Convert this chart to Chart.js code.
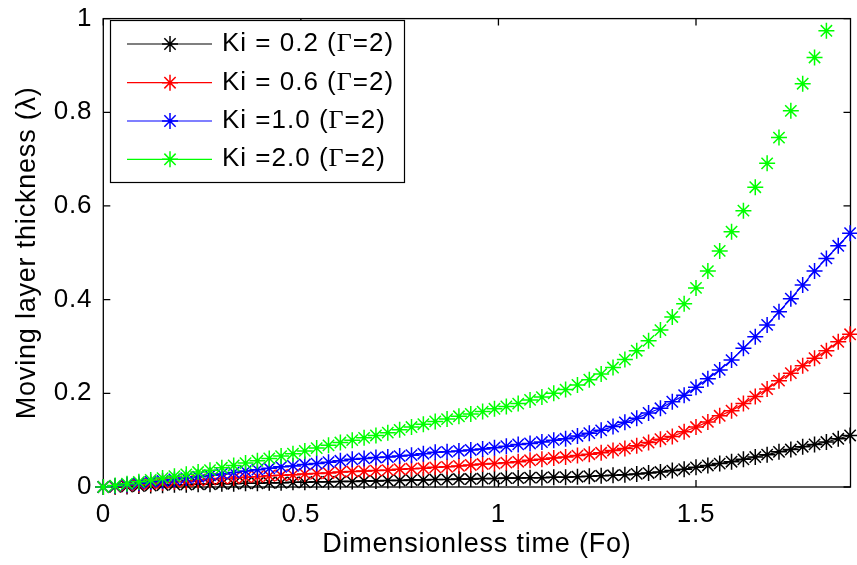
<!DOCTYPE html>
<html>
<head>
<meta charset="utf-8">
<script src="https://cdn.jsdelivr.net/npm/chart.js@4.4.0/dist/chart.umd.min.js"></script>
<style>
  html, body { margin: 0; padding: 0; background: #fff; overflow: hidden; }
  canvas { display: block; }
</style>
</head>
<body>
<canvas id="chart" width="860" height="565"></canvas>
<script>
// Dimensionless time (Fo)
const fo = [0, 0.03, 0.06, 0.09, 0.12, 0.15, 0.18, 0.21, 0.24, 0.27,
  0.30, 0.33, 0.36, 0.39, 0.42, 0.45, 0.48, 0.51, 0.54, 0.57,
  0.60, 0.63, 0.66, 0.69, 0.72, 0.75, 0.78, 0.81, 0.84, 0.87,
  0.90, 0.93, 0.96, 0.99, 1.02, 1.05, 1.08, 1.11, 1.14, 1.17,
  1.20, 1.23, 1.26, 1.29, 1.32, 1.35, 1.38, 1.41, 1.44, 1.47,
  1.50, 1.53, 1.56, 1.59, 1.62, 1.65, 1.68, 1.71, 1.74, 1.77,
  1.80, 1.83, 1.86, 1.89];

// Moving layer thickness for each Ki
const ki02 = [0, 0.0005, 0.001, 0.002, 0.003, 0.004, 0.005, 0.005, 0.006, 0.006,
  0.007, 0.007, 0.008, 0.008, 0.009, 0.009, 0.010, 0.010, 0.011, 0.011,
  0.012, 0.012, 0.013, 0.013, 0.014, 0.014, 0.015, 0.015, 0.016, 0.016,
  0.017, 0.017, 0.018, 0.018, 0.019, 0.019, 0.020, 0.020, 0.021, 0.021,
  0.022, 0.023, 0.024, 0.025, 0.026, 0.028, 0.030, 0.032, 0.035, 0.038,
  0.042, 0.046, 0.050, 0.054, 0.059, 0.064, 0.069, 0.075, 0.080, 0.086,
  0.091, 0.096, 0.103, 0.110];
const ki06 = [0, 0.001, 0.003, 0.005, 0.007, 0.009, 0.011, 0.012, 0.014, 0.016,
  0.018, 0.019, 0.021, 0.022, 0.024, 0.025, 0.026, 0.028, 0.029, 0.030,
  0.032, 0.033, 0.034, 0.035, 0.036, 0.038, 0.039, 0.040, 0.042, 0.043,
  0.045, 0.047, 0.049, 0.050, 0.052, 0.054, 0.057, 0.059, 0.062, 0.064,
  0.067, 0.070, 0.073, 0.078, 0.082, 0.088, 0.095, 0.102, 0.108, 0.118,
  0.128, 0.139, 0.152, 0.163, 0.178, 0.193, 0.209, 0.227, 0.243, 0.259,
  0.275, 0.291, 0.310, 0.326];
const ki10 = [0, 0.002, 0.005, 0.008, 0.011, 0.013, 0.016, 0.019, 0.022, 0.025,
  0.028, 0.031, 0.034, 0.037, 0.040, 0.043, 0.045, 0.048, 0.050, 0.053,
  0.056, 0.059, 0.061, 0.063, 0.064, 0.066, 0.068, 0.071, 0.074, 0.075,
  0.077, 0.079, 0.081, 0.084, 0.087, 0.091, 0.093, 0.096, 0.100, 0.103,
  0.109, 0.115, 0.121, 0.129, 0.138, 0.147, 0.158, 0.168, 0.182, 0.196,
  0.213, 0.231, 0.250, 0.271, 0.296, 0.321, 0.346, 0.374, 0.402, 0.431,
  0.461, 0.488, 0.515, 0.542];
const ki20 = [0, 0.003, 0.007, 0.011, 0.015, 0.019, 0.023, 0.027, 0.032, 0.036,
  0.041, 0.046, 0.051, 0.056, 0.061, 0.066, 0.071, 0.077, 0.083, 0.089,
  0.095, 0.100, 0.105, 0.110, 0.116, 0.122, 0.128, 0.134, 0.140, 0.145,
  0.151, 0.156, 0.161, 0.167, 0.172, 0.178, 0.186, 0.192, 0.200, 0.208,
  0.218, 0.229, 0.241, 0.255, 0.272, 0.291, 0.312, 0.335, 0.363, 0.391,
  0.425, 0.461, 0.504, 0.545, 0.590, 0.640, 0.691, 0.746, 0.803, 0.861,
  0.917, 0.974];

const seriesNames = ['Ki = 0.2 (Γ=2)', 'Ki = 0.6 (Γ=2)', 'Ki =1.0 (Γ=2)', 'Ki =2.0 (Γ=2)'];
const seriesColors = ['#000000', '#ff0000', '#0000ff', '#00ff00'];
const xTicks = [0, 0.5, 1, 1.5];
const yTicks = [0, 0.2, 0.4, 0.6, 0.8, 1];

const FONT = "'Liberation Sans', Arial, Helvetica, sans-serif";
const SERIF = "'Liberation Serif', 'Times New Roman', serif";

function toPoints(ys) {
  return ys.map((y, i) => ({ x: fo[i], y: y }));
}

function makeDataset(ys, idx, showLine) {
  return {
    label: seriesNames[idx],
    data: toPoints(ys),
    borderColor: seriesColors[idx],
    backgroundColor: seriesColors[idx],
    borderWidth: 1.2,
    pointStyle: 'star',
    pointRadius: 8,
    pointBorderWidth: 1.5,
    pointBorderColor: seriesColors[idx],
    pointHoverRadius: 8,
    showLine: showLine,
    tension: 0,
    clip: false,
    order: 4 - idx
  };
}

// matlab text is a little wider than Liberation Sans, so space it out a bit
const spacingPlugin = {
  id: 'spacing',
  beforeDraw(chart) {
    chart.ctx.letterSpacing = '0.8px';
  }
};

// box round the axes with inward ticks, as in the original figure
const framePlugin = {
  id: 'frame',
  beforeDatasetsDraw(chart) {
    const { ctx, chartArea: a, scales } = chart;
    const tl = 7;
    ctx.save();
    ctx.strokeStyle = '#000';
    ctx.lineWidth = 1.3;
    ctx.strokeRect(a.left, a.top, a.right - a.left, a.bottom - a.top);
    ctx.beginPath();
    xTicks.forEach(v => {
      const px = scales.x.getPixelForValue(v);
      ctx.moveTo(px, a.bottom); ctx.lineTo(px, a.bottom - tl);
      ctx.moveTo(px, a.top); ctx.lineTo(px, a.top + tl);
    });
    yTicks.forEach(v => {
      const py = scales.y.getPixelForValue(v);
      ctx.moveTo(a.left, py); ctx.lineTo(a.left + tl, py);
      ctx.moveTo(a.right, py); ctx.lineTo(a.right - tl, py);
    });
    ctx.stroke();
    ctx.restore();
  }
};

// legend drawn by hand: line + star marker + text with serif Gamma
const legendPlugin = {
  id: 'matlabLegend',
  afterDraw(chart) {
    const ctx = chart.ctx;
    const box = { x: 110.5, y: 20.5, w: 294, h: 162 };
    const rowY = [44, 82.7, 121, 159.3];
    ctx.save();
    ctx.fillStyle = '#fff';
    ctx.fillRect(box.x, box.y, box.w, box.h);
    ctx.strokeStyle = '#000';
    ctx.lineWidth = 1.2;
    ctx.strokeRect(box.x, box.y, box.w, box.h);
    ctx.textBaseline = 'middle';
    ctx.letterSpacing = '1px';
    seriesNames.forEach((name, i) => {
      const y = rowY[i];
      const c = seriesColors[i];
      ctx.strokeStyle = c;
      ctx.lineWidth = 1.2;
      ctx.beginPath();
      ctx.moveTo(127, y); ctx.lineTo(212, y);
      ctx.stroke();
      ctx.lineWidth = 1.5;
      Chart.helpers.drawPoint(ctx, { pointStyle: 'star', radius: 8, borderWidth: 1.5, rotation: 0 }, 170, y);
      ctx.fillStyle = '#000';
      const parts = name.split('Γ');
      let x = 222;
      ctx.font = '26px ' + FONT;
      ctx.fillText(parts[0], x, y);
      x += ctx.measureText(parts[0]).width;
      ctx.font = '26px ' + SERIF;
      ctx.fillText('Γ', x, y);
      x += ctx.measureText('Γ').width;
      ctx.font = '26px ' + FONT;
      ctx.fillText(parts[1], x, y);
    });
    ctx.restore();
  }
};

new Chart(document.getElementById('chart'), {
  type: 'line',
  data: {
    datasets: [
      makeDataset(ki02, 0, true),
      makeDataset(ki06, 1, true),
      makeDataset(ki10, 2, true),
      makeDataset(ki20, 3, false)
    ]
  },
  options: {
    responsive: false,
    animation: false,
    events: [],
    layout: { padding: { top: 16, right: 2, left: 0, bottom: 0 } },
    plugins: {
      legend: { display: false },
      tooltip: { enabled: false }
    },
    scales: {
      x: {
        type: 'linear',
        min: 0,
        max: 1.891,
        afterBuildTicks: s => { s.ticks = xTicks.map(v => ({ value: v })); },
        afterFit: s => { s.height = 78; },
        grid: { display: false },
        border: { display: false },
        ticks: {
          color: '#000',
          padding: 4,
          maxRotation: 0,
          font: { family: FONT, size: 26 },
          callback: v => String(v)
        },
        title: {
          display: true,
          text: 'Dimensionless time (Fo)',
          color: '#000',
          font: { family: FONT, size: 27 },
          padding: { top: 0, bottom: 4 }
        }
      },
      y: {
        min: 0,
        max: 1,
        afterBuildTicks: s => { s.ticks = yTicks.map(v => ({ value: v })); },
        afterFit: s => { s.width = 103.3; },
        grid: { display: false },
        border: { display: false },
        ticks: {
          color: '#000',
          padding: 3,
          font: { family: FONT, size: 26 },
          callback: v => String(v)
        },
        title: {
          display: true,
          text: 'Moving layer thickness (λ)',
          color: '#000',
          font: { family: FONT, size: 27 },
          padding: { top: 11, bottom: 0 }
        }
      }
    }
  },
  plugins: [spacingPlugin, framePlugin, legendPlugin]
});
</script>
</body>
</html>
